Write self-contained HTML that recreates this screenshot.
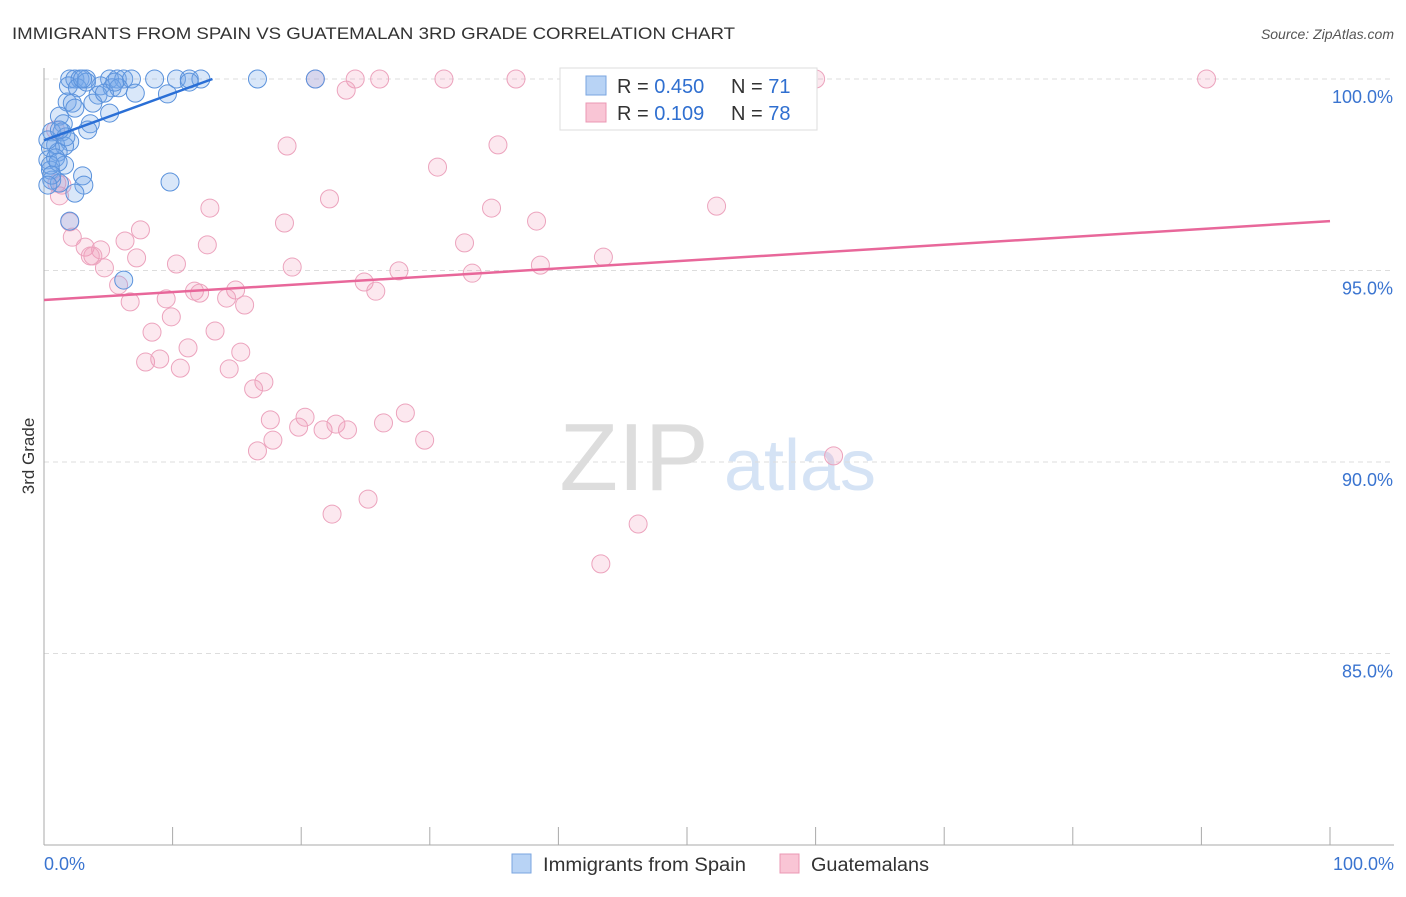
<!DOCTYPE html>
<html><head><meta charset="utf-8"><style>
body{margin:0;background:#fff;font-family:"Liberation Sans",sans-serif}
svg text{font-family:"Liberation Sans",sans-serif}
</style></head><body>
<svg id="chart" width="1406" height="892">
<text x="12" y="39" font-size="17" fill="#333" textLength="723" lengthAdjust="spacingAndGlyphs">IMMIGRANTS FROM SPAIN VS GUATEMALAN 3RD GRADE CORRELATION CHART</text>
<text x="1394" y="39" font-size="14" fill="#555" text-anchor="end" font-style="italic">Source: ZipAtlas.com</text>
<text transform="translate(34,456) rotate(-90)" font-size="17" fill="#333" text-anchor="middle">3rd Grade</text>
<g><text x="634" y="490" font-size="96" fill="#ddd" font-family="Liberation Serif" text-anchor="middle">ZIP</text><text x="800" y="490" font-size="72" fill="#d5e3f5" text-anchor="middle">atlas</text></g>
<g id="grid"></g><g id="axes"></g><g id="pts"></g><g id="lines"></g>
<g>
<rect x="560" y="68" width="257" height="62" fill="#fff" stroke="#ddd"/>
<rect x="586" y="76" width="20" height="19" fill="#b8d3f5" stroke="#7aa6e0"/>
<rect x="586" y="103" width="20" height="19" fill="#f9c5d5" stroke="#eb98b4"/>
<text x="617" y="93" font-size="20" fill="#333">R = <tspan fill="#2f6fd0">0.450</tspan></text>
<text x="731" y="93" font-size="20" fill="#333">N = <tspan fill="#2f6fd0"> 71</tspan></text>
<text x="617" y="120" font-size="20" fill="#333">R = <tspan fill="#2f6fd0"> 0.109</tspan></text>
<text x="731" y="120" font-size="20" fill="#333">N = <tspan fill="#2f6fd0">78</tspan></text>
</g>
<g>
<rect x="512" y="854" width="19" height="19" fill="#b8d3f5" stroke="#7aa6e0"/>
<text x="543" y="871" font-size="19" fill="#333" textLength="203" lengthAdjust="spacingAndGlyphs">Immigrants from Spain</text>
<rect x="780" y="854" width="19" height="19" fill="#f9c5d5" stroke="#eb98b4"/>
<text x="811" y="871" font-size="19" fill="#333" textLength="118" lengthAdjust="spacingAndGlyphs">Guatemalans</text>
</g>
</svg>
<script>
const blueX=[2.0,2.4,2.8,3.3,5.1,5.7,6.2,6.8,8.6,10.3,11.3,12.2,16.6,21.1,1.9,2.6,4.4,5.3,5.8,7.1,9.6,4.2,1.8,2.2,3.8,5.1,1.2,2.4,1.5,3.6,3.4,0.6,1.4,2.0,0.9,1.6,0.5,1.1,0.3,0.9,1.6,0.5,3.0,3.1,0.6,1.2,2.4,9.8,2.0,6.2,0.3,0.5,1.1,1.7,4.7,3.3,3.0,1.2,0.6,0.3,5.5,11.3];
const blueY=[100,100,100,100,100,100,100,100,100,100,100,100,100,100,99.82,99.77,99.82,99.77,99.77,99.63,99.61,99.58,99.4,99.37,99.37,99.11,99.03,99.24,98.83,98.83,98.67,98.62,98.62,98.36,98.28,98.25,98.2,98.09,97.89,97.94,97.75,97.62,97.47,97.23,97.36,97.28,97.02,97.31,96.29,94.75,98.41,97.75,97.83,98.49,99.63,99.92,100,98.67,97.49,97.23,99.92,99.92];
const pinkX=[21.1,24.2,26.1,31.1,36.7,58.9,60.0,90.4,23.5,18.9,35.3,30.6,22.2,12.9,34.8,38.3,52.3,18.7,2.0,1.2,1.0,0.9,2.2,3.2,4.4,3.8,6.3,7.5,7.2,12.7,10.3,4.7,19.3,27.6,33.3,38.6,43.5,32.7,5.8,6.7,9.5,11.7,12.1,14.9,14.2,15.6,24.9,25.8,9.9,8.4,13.3,11.2,7.9,9.0,15.3,10.6,14.4,17.1,16.3,17.6,20.3,19.8,21.7,22.7,23.6,26.4,28.1,29.6,17.8,16.6,61.4,25.2,22.4,46.2,43.3,3.6,1.4];
const pinkY=[100,100,100,100,100,100,100,100,99.71,98.25,98.28,97.70,96.87,96.63,96.63,96.29,96.68,96.24,96.27,96.95,97.28,98.67,95.87,95.61,95.54,95.38,95.77,96.06,95.33,95.67,95.17,95.07,95.09,94.99,94.93,95.14,95.35,95.72,94.62,94.18,94.26,94.46,94.41,94.49,94.28,94.10,94.70,94.46,93.79,93.39,93.42,92.98,92.61,92.69,92.87,92.45,92.43,92.09,91.91,91.10,91.17,90.91,90.84,90.99,90.84,91.02,91.28,90.57,90.57,90.29,90.16,89.03,88.64,88.38,87.34,95.38,97.23];
const blueLine=[[0,98.4],[13.1,100]];
const pinkLine=[[0,94.23],[100,96.29]];
const yTicks=[100,95,90,85];
const yTickLabels=["100.0%","95.0%","90.0%","85.0%"];
const xTicks=[0,10,20,30,40,50,60,70,80,90,100];
const NS="http://www.w3.org/2000/svg";
const sx=v=>44+v*12.86, sy=v=>79+(100-v)*38.3;
function mk(t,a,p){const e=document.createElementNS(NS,t);for(const k in a)e.setAttribute(k,a[k]);p.appendChild(e);return e;}
const grid=document.getElementById('grid'),axes=document.getElementById('axes'),pts=document.getElementById('pts'),lines=document.getElementById('lines');
yTicks.forEach((v,i)=>{
 const l=mk('line',{x1:44,x2:1394,y1:sy(v),y2:sy(v),stroke:'#ddd','stroke-dasharray':'5,4'},grid);
 
 
 const t=mk('text',{x:1393,y:sy(v)+24,'font-size':18,fill:'#3a74d0','text-anchor':'end'},axes);t.textContent=yTickLabels[i];
 
 
});
mk('line',{x1:44,x2:44,y1:68,y2:845,stroke:'#aaa'},axes);
mk('line',{x1:44,x2:1394,y1:845,y2:845,stroke:'#aaa'},axes);
xTicks.forEach(v=>{const l=mk('line',{x1:sx(v),x2:sx(v),y1:827,y2:845,stroke:'#aaa'},axes);
 
 });
let t0=mk('text',{x:44,y:870,'font-size':18,fill:'#3a74d0'},axes);t0.textContent='0.0%';


let t1=mk('text',{x:1394,y:870,'font-size':18,fill:'#3a74d0','text-anchor':'end'},axes);t1.textContent='100.0%';


pinkX.forEach((x,i)=>{const c=mk('circle',{cx:sx(x),cy:sy(pinkY[i]),r:9,fill:'rgba(242,150,182,0.22)',stroke:'#eca3bd','stroke-width':1},pts);
 
 });
blueX.forEach((x,i)=>{const c=mk('circle',{cx:sx(x),cy:sy(blueY[i]),r:9,fill:'rgba(120,168,235,0.28)',stroke:'#5a92dc','stroke-width':1},pts);
 
 });
const bl=mk('line',{x1:sx(blueLine[0][0]),y1:sy(blueLine[0][1]),x2:sx(blueLine[1][0]),y2:sy(blueLine[1][1]),stroke:'#2a6fd6','stroke-width':2.5},lines);


const pl=mk('line',{x1:sx(pinkLine[0][0]),y1:sy(pinkLine[0][1]),x2:sx(pinkLine[1][0]),y2:sy(pinkLine[1][1]),stroke:'#e8679a','stroke-width':2.5},lines);


</script>
</body></html>
